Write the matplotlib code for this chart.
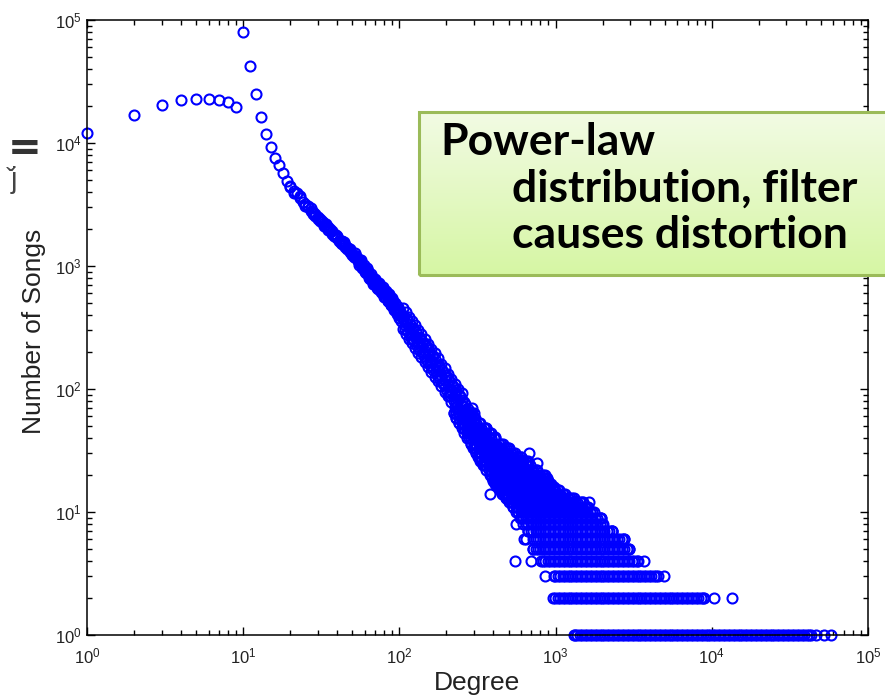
import numpy as np
import matplotlib
matplotlib.use("Agg")
import matplotlib.pyplot as plt
from matplotlib.patches import Rectangle

plt.rcParams['font.family'] = ['Liberation Sans', 'DejaVu Sans']
plt.rcParams['mathtext.default'] = 'regular'

# ---------------- data ----------------
# isolated points at small degree
head_deg = [1, 2, 3, 4, 5, 6, 7, 8, 9, 10, 11, 12, 13, 14, 15, 16, 17, 18]
head_cnt = [12100, 17000, 20400, 22400, 22700, 23000, 22400, 21500, 19800,
            80000, 42400, 25000, 16300, 11900, 9300, 7600, 6600, 5700]

# narrow power-law band (degree, number of songs)
band_deg = [19, 20, 21, 22, 23, 24, 25, 26, 27, 28, 29, 30, 31, 32, 33, 34, 35,
            36, 37, 38, 39, 40, 41, 42, 43, 44, 45, 46, 47, 48, 49, 50,
            28, 34, 38, 44, 48,
            20, 21, 23, 25, 26, 27, 29, 30, 31, 32, 33, 35, 36, 37, 39, 40, 42,
            43, 45, 46, 48, 50,
            51, 52, 53, 54, 55, 56, 57, 58, 59, 60, 61, 62, 63, 64, 65, 66, 67,
            68, 69, 70, 72, 74, 76, 78, 80, 82, 84, 86, 88, 90, 92, 94, 96, 98, 100,
            52, 55, 57, 60, 62, 64, 66, 68, 70, 72, 74, 76, 78, 80, 82, 84, 86,
            88, 90, 92, 94, 96, 98, 100,
            51, 53, 54, 56, 58, 59, 61, 63, 65, 67, 69, 71, 73, 75, 77, 79, 81,
            83, 85, 87, 89, 91, 93, 95, 97, 99,
            105, 110, 115, 120, 126, 132, 138, 145, 152, 160, 168, 176, 185, 195,
            205, 215, 226, 238, 250,
            105, 110, 115, 120, 126, 132, 138, 145, 152, 160, 168, 176, 185, 195,
            205, 215, 226, 238, 250,
            105, 110, 115, 120, 126, 132, 138, 145, 152, 160, 168, 176, 185, 195,
            205, 215, 226, 238, 250,
            102, 108, 112, 118, 123, 129, 135, 141, 148, 156, 164, 172, 180, 190,
            200, 210, 220, 232, 244, 260, 270, 280, 290, 300,
            101, 103, 107, 109, 112, 114, 117, 119, 122, 124, 128, 130, 134, 136,
            140, 143, 147, 150, 154, 157, 162, 165, 170, 174, 179, 182, 188, 192,
            198, 202, 208, 212, 218, 223, 229, 234, 241, 246, 253, 257, 264, 268,
            275, 284, 295]
band_cnt = [4900, 4360, 4070, 3900, 3590, 3300, 3190, 3020, 2950, 2730, 2550, 2480,
            2420, 2270, 2120, 2094, 2080, 1947, 1830, 1817, 1800, 1702, 1610, 1600,
            1590, 1500, 1420, 1412, 1400, 1332, 1270, 1258,
            2650, 2180, 1760, 1560, 1290,
            4500, 3950, 3700, 3100, 3100, 2800, 2650, 2400, 2320, 2330, 2230, 1970,
            2000, 1920, 1720, 1760, 1550, 1520, 1480, 1370, 1370, 1220,
            1225, 1192, 1160, 1131, 1095, 1061, 1030, 1000, 972, 944, 918, 894, 870,
            848, 826, 805, 786, 767, 750, 734, 704, 675, 648, 623, 600, 578, 557,
            537, 518, 497, 476, 458, 440, 423, 407,
            1280, 1020, 1110, 890, 960, 800, 860, 720, 790, 660, 730, 610, 680, 560,
            630, 520, 590, 480, 545, 440, 500, 410, 460, 375,
            1180, 1210, 1090, 1110, 960, 1010, 880, 910, 790, 820, 720, 760, 650,
            700, 605, 650, 560, 600, 515, 560, 480, 520, 450, 480, 420, 440,
            372, 341, 315, 291, 266, 244, 225, 205, 188, 171, 156, 143, 130, 118,
            107, 98, 89, 81, 74,
            455, 420, 385, 360, 330, 300, 280, 255, 232, 212, 195, 178, 160, 147,
            133, 121, 110, 100, 92,
            305, 280, 255, 236, 215, 198, 182, 166, 152, 138, 126, 116, 105, 95,
            87, 79, 72, 65, 60,
            390, 330, 370, 280, 310, 240, 260, 200, 225, 170, 185, 140, 150, 112,
            125, 95, 105, 78, 88, 72, 66, 62, 70, 64,
            430, 360, 395, 310, 365, 290, 340, 262, 315, 245, 290, 225, 265, 205,
            245, 186, 226, 170, 208, 157, 190, 142, 174, 130, 158, 118, 144, 107,
            131, 97, 118, 88, 108, 80, 99, 73, 90, 67, 82, 62, 75, 58,
            69, 55, 60]

# degrees sampled along the low-count rows
row_grid = [224, 232, 241, 250, 259, 269, 279, 289, 300, 311, 322, 334, 347, 359,
            373, 387, 401, 416, 431, 447, 464, 481, 499, 517, 536, 556, 577, 598,
            620, 643, 667, 692, 717, 744, 771, 800, 829, 860, 892, 925, 959, 994,
            1031, 1069, 1109, 1150, 1192, 1236, 1282, 1329, 1379, 1430, 1483,
            1537, 1594, 1653, 1714, 1778, 1844, 1912, 1982, 2056, 2132, 2211,
            2292, 2377, 2465, 2556, 2651, 2749, 2850, 2956, 3065, 3178, 3296,
            3418, 3544, 3675, 3811, 3952, 4098, 4250, 4407, 4570, 4739, 4914,
            5096, 5285, 5480, 5683, 5893, 6111, 6337, 6572, 6815, 7067, 7329,
            7600, 7881, 8173, 8475, 8789, 9114, 9451, 9801, 10160, 10540, 10930,
            11330, 11750, 12190, 12640, 13100, 13590, 14090, 14610, 15150, 15710,
            16290, 16900, 17520, 18170, 18840, 19540, 20260, 21010, 21790, 22600,
            23430, 24300, 25200, 26130, 27100, 28100, 29140, 30220, 31340, 32500,
            33700, 34950, 36240, 37580, 38970, 40420, 41910, 43100]
# integer-count rows: count, first degree, last degree
row_cnt = [1, 2, 3, 4, 5, 6, 7, 8, 9, 10, 11, 12, 13, 14, 15, 16, 17, 18, 19,
           20, 22, 24, 26, 28, 30, 33, 36, 40, 44, 48, 53, 58, 64]
row_lo = [1304, 959, 971, 801, 713, 720, 662, 620, 590, 560, 530, 505, 480, 451,
          438, 425, 412, 400, 390, 380, 360, 345, 330, 320, 310, 298, 287, 270,
          260, 250, 240, 230, 222]
row_hi = [43100, 8890, 4506, 3356, 2938, 2740, 2309, 2000, 1942, 1750, 1603,
          1500, 1267, 1150, 1050, 957, 930, 900, 875, 850, 760, 690, 662, 600,
          546, 500, 460, 412, 385, 360, 330, 305, 290]

# isolated outliers at the edges of the cloud
out_deg = [850, 4923, 546, 692, 3666, 624, 642, 554, 383, 674, 763, 975, 1310,
           1635, 1942, 2309, 2740, 2951, 412, 258, 10300, 13400, 46400, 52300, 57900]
out_cnt = [3, 3, 4, 4, 4, 6, 6, 8, 14, 30, 25, 16, 13, 12, 9, 7, 6, 5, 41, 78,
           2, 2, 1, 1, 1]

# ---------------- figure ----------------
W, H = 885, 696
fig = plt.figure(figsize=(W / 100, H / 100), dpi=100)
L, R, T, B = 87, 868, 20, 635
ax = fig.add_axes([L / W, 1 - B / H, (R - L) / W, (B - T) / H])

blue = (0, 0, 1)
mk = dict(linestyle='none', marker='o', mfc='none', mec=blue, ms=7.2, mew=1.5,
          clip_on=False)

ax.plot(head_deg, head_cnt, **mk)
ax.plot(band_deg, band_cnt, **mk)
for c, lo, hi in zip(row_cnt, row_lo, row_hi):
    ds = [lo] + [d for d in row_grid if lo < d < hi] + [hi]
    ax.plot(ds, [c] * len(ds), **mk)
ax.plot(out_deg, out_cnt, **mk)

ax.set_xscale('log')
ax.set_yscale('log')
ax.set_xlim(1, 1e5)
ax.set_ylim(1, 1e5)
for s in ax.spines.values():
    s.set_linewidth(1.1)
ax.tick_params(which='both', direction='in', top=True, right=True,
               colors='black', labelcolor='#222222', labelsize=12, width=1.0)
ax.tick_params(which='major', length=6)
ax.tick_params(which='minor', length=3.5)
ax.tick_params(axis='x', pad=8)
ax.tick_params(axis='y', pad=4)
ax.xaxis.set_major_locator(matplotlib.ticker.LogLocator(base=10, numticks=10))
ax.yaxis.set_major_locator(matplotlib.ticker.LogLocator(base=10, numticks=10))
ax.xaxis.set_minor_locator(matplotlib.ticker.LogLocator(base=10, subs=np.arange(2, 10), numticks=20))
ax.yaxis.set_minor_locator(matplotlib.ticker.LogLocator(base=10, subs=np.arange(2, 10), numticks=20))

ax.set_xlabel('Degree', fontsize=19, color='#222222')
ax.xaxis.set_label_coords(0.5, -0.058)
ax.set_ylabel('Number of Songs', fontsize=19, color='#222222')
ax.yaxis.label.set_va('center')
ax.yaxis.set_label_coords(-0.068, 0.493)

# formula fragment at the left edge
fig.text(0.5 / W, 1 - 147 / H, r'$\mathbf{=}$', fontsize=29, color='#333333',
         ha='left', va='center')
fig.text(6 / W, 1 - 180 / H, r'$\check{j}$', fontsize=21, color='#444444',
         ha='left', va='center')

# annotation box with green gradient
bx0, by0, bx1, by1 = 419, 112, 900, 275
bax = fig.add_axes([bx0 / W, 1 - by1 / H, (bx1 - bx0) / W, (by1 - by0) / H], zorder=5)
top = np.array([242, 251, 228]) / 255
bot = np.array([214, 246, 164]) / 255
grad = np.linspace(0, 1, 64)[:, None, None] * (bot - top) + top
bax.imshow(grad, aspect='auto', extent=(0, 1, 0, 1), origin='upper')
bax.add_patch(Rectangle((0, 0), 1, 1, transform=bax.transAxes, fill=False,
                        edgecolor='#9BBB59', linewidth=2.2, clip_on=False))
bax.set_xlim(0, 1)
bax.set_ylim(0, 1)
bax.axis('off')

tf = dict(fontsize=32, fontweight='bold', family=['Lato', 'DejaVu Sans'],
          color='black', va='baseline', ha='left', zorder=10)
fig.text(440 / W, 1 - 155 / H, 'Power-law', **tf)
fig.text(512 / W, 1 - 202 / H, 'distribution, filter', **tf)
fig.text(512 / W, 1 - 248 / H, 'causes distortion', **tf)

fig.savefig('out.png', dpi=100)
